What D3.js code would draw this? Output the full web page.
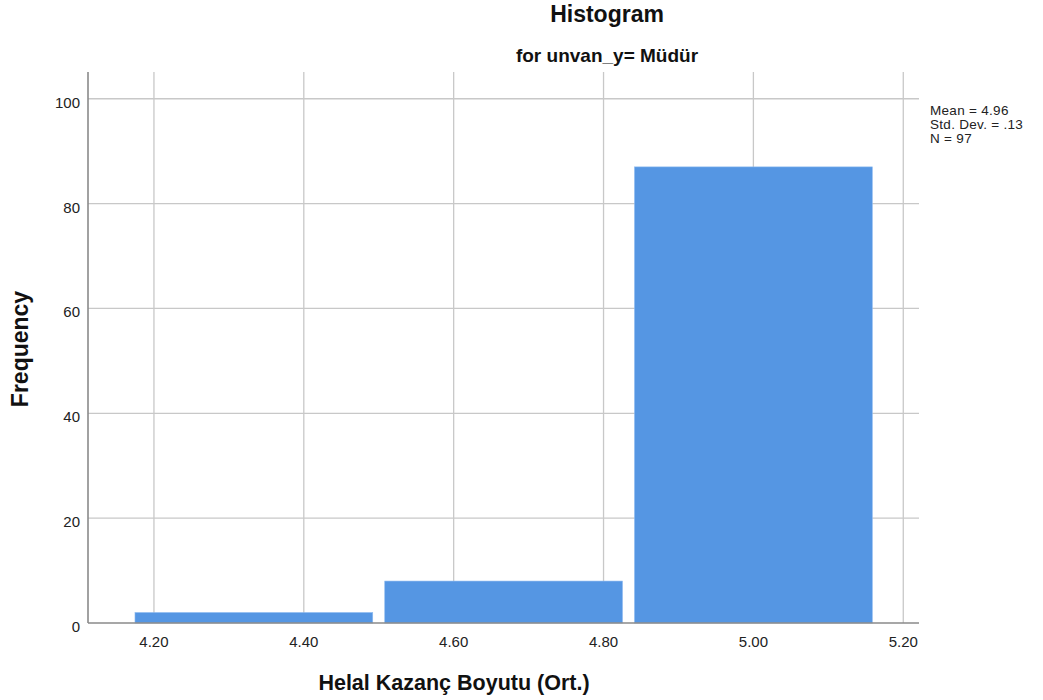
<!DOCTYPE html>
<html>
<head>
<meta charset="utf-8">
<script src="https://cdn.jsdelivr.net/npm/d3@7"></script>
<style>
  body { margin: 0; background: #fff; }
  svg { font-family: "Liberation Sans", Arial, sans-serif; }
</style>
</head>
<body>
<div id="chart"></div>
<script>
// histogram bins (Helal Kazanç Boyutu, unvan_y = Müdür)
const binStarts = [4.1667, 4.5, 4.8333];
const binEnds   = [4.5, 4.8333, 5.1667];
const counts    = [2, 8, 87];
const xTicks = [4.2, 4.4, 4.6, 4.8, 5.0, 5.2];
const yTicks = [0, 20, 40, 60, 80, 100];
const stats = ['Mean = 4.96', 'Std. Dev. = .13', 'N = 97'];

const W = 1043, H = 700;
const m = { top: 72, right: 124, bottom: 77, left: 88 };
const w = W - m.left - m.right;
const h = H - m.top - m.bottom;

const svg = d3.select('#chart').append('svg').attr('width', W).attr('height', H);
const g = svg.append('g').attr('transform', `translate(${m.left},${m.top})`);

const x = d3.scaleLinear().domain([4.112, 5.221]).range([0, w]);
const y = d3.scaleLinear().domain([0, 105.1]).range([h, 0]);

// Grid
g.append('g').selectAll('line').data(xTicks).join('line')
  .attr('x1', d => x(d)).attr('x2', d => x(d)).attr('y1', 0).attr('y2', h)
  .attr('stroke', '#c8c8c8').attr('stroke-width', 1.3);
g.append('g').selectAll('line').data(yTicks.slice(1)).join('line')
  .attr('x1', 0).attr('x2', w).attr('y1', d => y(d)).attr('y2', d => y(d))
  .attr('stroke', '#c8c8c8').attr('stroke-width', 1.3);

// Bars
const data = counts.map((c, i) => ({ x0: binStarts[i], x1: binEnds[i], n: c }));
g.selectAll('rect.bar').data(data).join('rect')
  .attr('class', 'bar')
  .attr('x', d => x(d.x0) + 6)
  .attr('width', d => x(d.x1) - x(d.x0) - 12)
  .attr('y', d => y(d.n))
  .attr('height', d => y(0) - y(d.n))
  .attr('fill', '#5596e3')
  .attr('stroke', '#8dbaf0').attr('stroke-width', 0.6);

// Axes lines
g.append('line').attr('x1', 0).attr('x2', 0).attr('y1', 0).attr('y2', h)
  .attr('stroke', '#8a8a8a').attr('stroke-width', 1.6);
g.append('line').attr('x1', 0).attr('x2', w).attr('y1', h).attr('y2', h)
  .attr('stroke', '#8a8a8a').attr('stroke-width', 1.6);

// Tick labels
g.selectAll('text.xt').data(xTicks).join('text')
  .attr('x', d => x(d)).attr('y', h + 24).attr('text-anchor', 'middle')
  .attr('font-size', 15).attr('fill', '#222').text(d => d.toFixed(2));
g.selectAll('text.yt').data(yTicks).join('text')
  .attr('x', -8).attr('y', d => y(d) + 9).attr('text-anchor', 'end')
  .attr('font-size', 15).attr('fill', '#222').text(d => d);

// Titles
svg.append('text').attr('x', 607).attr('y', 22).attr('text-anchor', 'middle')
  .attr('font-size', 23).attr('font-weight', 'bold').attr('fill', '#111').text('Histogram');
svg.append('text').attr('x', 607).attr('y', 62).attr('text-anchor', 'middle')
  .attr('font-size', 19).attr('font-weight', 'bold').attr('fill', '#111').text('for unvan_y= Müdür');

// Axis labels
svg.append('text').attr('x', 454).attr('y', 690).attr('text-anchor', 'middle')
  .attr('font-size', 21.5).attr('font-weight', 'bold').attr('fill', '#111').text('Helal Kazanç Boyutu (Ort.)');
svg.append('text').attr('transform', 'rotate(-90)').attr('x', -349).attr('y', 28)
  .attr('text-anchor', 'middle').attr('font-size', 23).attr('font-weight', 'bold')
  .attr('fill', '#111').text('Frequency');

// Stats box
svg.append('g').selectAll('text').data(stats).join('text')
  .attr('x', 930).attr('y', (d, i) => 115 + i * 14)
  .attr('font-size', 13.5).attr('letter-spacing', 0.3)
  .attr('fill', '#222').text(d => d);
</script>
</body>
</html>
